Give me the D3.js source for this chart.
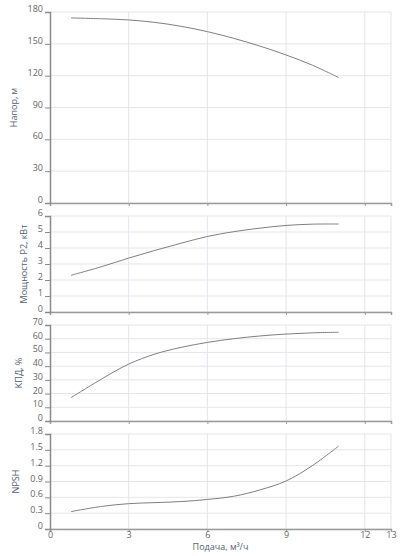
<!DOCTYPE html>
<html>
<head>
<meta charset="utf-8">
<script src="https://cdn.jsdelivr.net/npm/d3@7"></script>
<style>
  body { margin: 0; background: #fff; }
  text { font-family: "Open Sans", sans-serif; }
</style>
</head>
<body>
<div id="vis"></div>
<script>
// flow, m3/h
var flow = [0.8, 2, 3, 4, 5, 6, 7, 8, 9, 10, 11];
// series
var head = [174.4, 173.6, 172.5, 170.2, 166.5, 161.5, 155.2, 147.9, 139.5, 129.9, 118.3];
var power = [2.29, 2.85, 3.37, 3.85, 4.3, 4.72, 5.02, 5.24, 5.41, 5.49, 5.5];
var eff = [17, 31, 41.5, 48.8, 53.7, 57.3, 60, 62, 63.4, 64.3, 64.7];
var npsh = [0.33, 0.43, 0.48, 0.5, 0.52, 0.56, 0.62, 0.74, 0.91, 1.2, 1.57];

var xTicks = [0, 3, 6, 9, 12, 13];
var headTicks = [0, 30, 60, 90, 120, 150, 180];
var powerTicks = [0, 1, 2, 3, 4, 5, 6];
var effTicks = [0, 10, 20, 30, 40, 50, 60, 70];
var npshTicks = [0, 0.3, 0.6, 0.9, 1.2, 1.5, 1.8];

var width = 400, height = 556;
var left = 50, right = 391;

var panels = [
  {title: "Напор, м", values: head, ticks: headTicks, top: 12, h: 191, fmt: d3.format("d")},
  {title: "Мощность P2, кВт", values: power, ticks: powerTicks, top: 216, h: 96, fmt: d3.format("d")},
  {title: "КПД, %", values: eff, ticks: effTicks, top: 325, h: 96, fmt: d3.format("d")},
  {title: "NPSH", values: npsh, ticks: npshTicks, top: 434, h: 95, fmt: function(d) { return d === 0 ? "0" : d3.format(".1f")(d); }}
];

var x = d3.scaleLinear().domain([0, 13]).range([left, right]);

var svg = d3.select("#vis")
    .append("svg")
    .attr("width", width)
    .attr("height", height);

panels.forEach(function(p, i) {
  var y = d3.scaleLinear()
      .domain([p.ticks[0], p.ticks[p.ticks.length - 1]])
      .range([p.top + p.h, p.top]);

  var g = svg.append("g").attr("class", "panel");

  // horizontal grid
  g.selectAll(".hgrid")
      .data(p.ticks)
      .enter()
      .append("line")
      .attr("x1", left).attr("x2", right)
      .attr("y1", function(d) { return y(d); })
      .attr("y2", function(d) { return y(d); })
      .attr("stroke", "#e6e6ea")
      .attr("stroke-width", 1);

  // vertical grid
  g.selectAll(".vgrid")
      .data(xTicks.slice(1))
      .enter()
      .append("line")
      .attr("x1", function(d) { return x(d); })
      .attr("x2", function(d) { return x(d); })
      .attr("y1", p.top).attr("y2", p.top + p.h)
      .attr("stroke", "#e3e5ee")
      .attr("stroke-width", 1);

  // curve
  var line = d3.line()
      .x(function(d, j) { return x(flow[j]); })
      .y(function(d) { return y(d); })
      .curve(d3.curveCatmullRom);

  g.append("path")
      .datum(p.values)
      .attr("d", line)
      .attr("fill", "none")
      .attr("stroke", "#7f7f7f")
      .attr("stroke-width", 1);

  // bottom axis
  var xAxis = g.append("g")
      .attr("transform", "translate(0," + (p.top + p.h) + ")")
      .call(d3.axisBottom(x).tickValues(xTicks).tickSize(3).tickFormat(i === 3 ? d3.format("d") : ""));
  xAxis.select(".domain").attr("stroke", "#9a9a9a").attr("stroke-width", 1.5);
  xAxis.selectAll(".tick line").attr("stroke", "#9a9a9a");
  xAxis.selectAll("text")
      .attr("fill", "#666")
      .attr("font-size", "9px")
      .attr("y", 3);

  // left axis
  var yAxis = g.append("g")
      .attr("transform", "translate(" + left + ",0)")
      .call(d3.axisLeft(y).tickValues(p.ticks).tickSize(5).tickPadding(2).tickFormat(p.fmt));
  yAxis.select(".domain").attr("stroke", "#8a8a8a").attr("stroke-width", 1.5);
  yAxis.selectAll(".tick line").attr("stroke", "#8a8a8a");
  yAxis.selectAll("text")
      .attr("fill", "#666")
      .attr("font-size", "9px")
      .attr("dy", "-0.05em");

  // axis title, placed left of the widest tick label
  var minX = d3.min(yAxis.selectAll("text").nodes(), function(n) {
    return left + n.getBBox().x;
  });
  svg.append("text")
      .attr("transform", "translate(" + (minX - 11) + "," + (p.top + p.h / 2) + ") rotate(-90)")
      .attr("text-anchor", "middle")
      .attr("fill", "#566070")
      .attr("font-size", "9px")
      .text(p.title);
});

svg.append("text")
    .attr("x", (left + right) / 2)
    .attr("y", 550)
    .attr("text-anchor", "middle")
    .attr("fill", "#566070")
    .attr("font-size", "9px")
    .text("Подача, м³/ч");
</script>
</body>
</html>
